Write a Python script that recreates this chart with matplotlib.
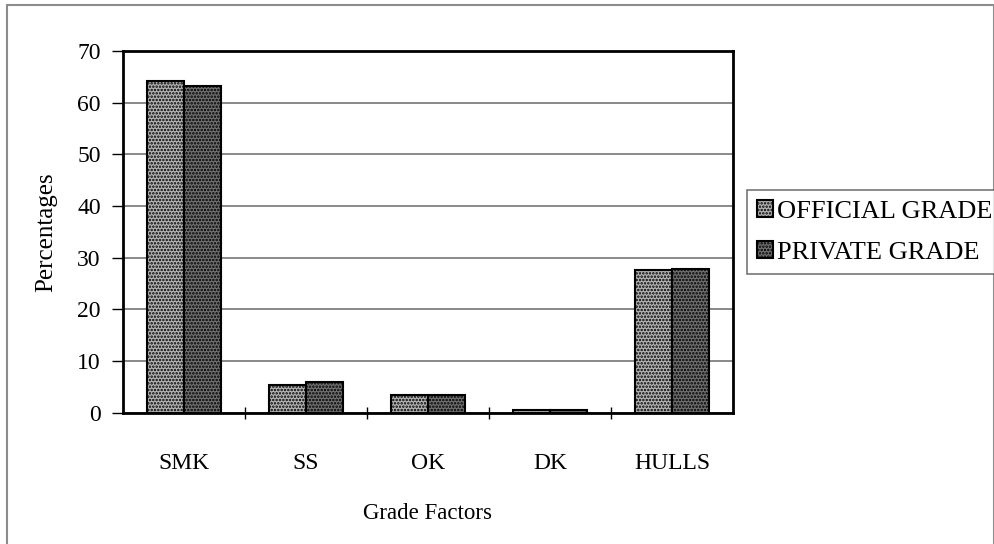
import matplotlib.pyplot as plt
import numpy as np
from matplotlib.patches import Rectangle

categories = ['SMK', 'SS', 'OK', 'DK', 'HULLS']
official = [64.1, 5.4, 3.4, 0.4, 27.5]
private = [63.3, 6.0, 3.4, 0.4, 27.7]
series_names = ['OFFICIAL GRADE', 'PRIVATE GRADE']

plt.rcParams['font.family'] = ['Liberation Serif', 'DejaVu Serif']
plt.rcParams['hatch.linewidth'] = 1.2

fig = plt.figure(figsize=(9.95, 5.44), dpi=100)
ax = fig.add_axes([0.1236, 0.2417, 0.6131, 0.6646])

# outer chart frame
fig.patches.append(Rectangle((7 / 995, -0.1), 987 / 995, 1.1 - 5 / 544,
                             transform=fig.transFigure, fill=False,
                             edgecolor='#8c8c8c', linewidth=1.5))

x = np.arange(len(categories))
w = 0.3
b1 = ax.bar(x - w / 2, official, w, facecolor='#b4b4b4', edgecolor='black',
            hatch='.....', linewidth=1.5, zorder=3)
b2 = ax.bar(x + w / 2, private, w, facecolor='#707070', edgecolor='black',
            hatch='.....', linewidth=1.5, zorder=3)

ax.set_xlim(-0.5, len(categories) - 0.5)
ax.set_ylim(0, 70)
ax.set_yticks(range(0, 71, 10))
ax.yaxis.grid(True, color='#808080', linewidth=1.3)
ax.set_axisbelow(True)

ax.set_xticks(x)
ax.set_xticklabels(categories, fontsize=17)
ax.tick_params(axis='x', which='major', length=0, pad=29)
ax.set_xticks(x[:-1] + 0.5, minor=True)
ax.tick_params(axis='x', which='minor', length=8, direction='inout', width=1)
ax.tick_params(axis='y', length=8, width=1, labelsize=17, pad=8)

for s in ax.spines.values():
    s.set_linewidth(2)

ax.set_xlabel('Grade Factors', fontsize=16.5, labelpad=21)
ax.set_ylabel('Percentages', fontsize=18, labelpad=14)

leg = fig.legend([b1, b2], series_names, loc='upper left',
                 bbox_to_anchor=(747 / 995, 1 - 190 / 544), fontsize=19,
                 frameon=True, fancybox=False, edgecolor='#555555',
                 handlelength=0.6, handleheight=0.6, handletextpad=0.15,
                 borderpad=0.38, labelspacing=0.69, borderaxespad=0)
leg.get_frame().set_linewidth(1.2)

fig.savefig('out.png', dpi=100)
